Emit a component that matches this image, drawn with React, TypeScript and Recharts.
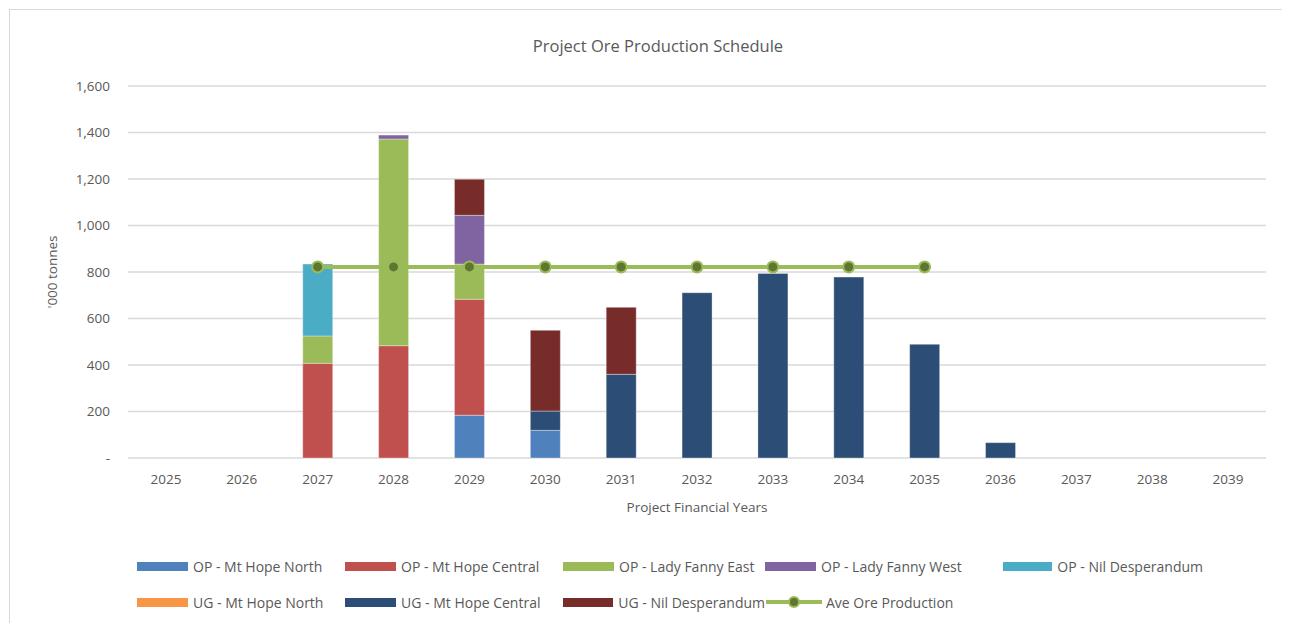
import { ComposedChart, Bar, Line, XAxis, YAxis, CartesianGrid, Label } from 'recharts'

const years = ['2025', '2026', '2027', '2028', '2029', '2030', '2031', '2032', '2033', '2034', '2035', '2036', '2037', '2038', '2039']

const opMtHopeNorth = [0, 0, 0, 0, 184, 119, 0, 0, 0, 0, 0, 0, 0, 0, 0]
const opMtHopeCentral = [0, 0, 407, 483, 499, 0, 0, 0, 0, 0, 0, 0, 0, 0, 0]
const opLadyFannyEast = [0, 0, 118, 889, 151, 0, 0, 0, 0, 0, 0, 0, 0, 0, 0]
const opLadyFannyWest = [0, 0, 0, 17, 210, 0, 0, 0, 0, 0, 0, 0, 0, 0, 0]
const opNilDesperandum = [0, 0, 309, 0, 0, 0, 0, 0, 0, 0, 0, 0, 0, 0, 0]
const ugMtHopeNorth = [0, 0, 0, 0, 0, 0, 0, 0, 0, 0, 0, 0, 0, 0, 0]
const ugMtHopeCentral = [0, 0, 0, 0, 0, 83, 360, 711, 794, 778, 489, 66, 0, 0, 0]
const ugNilDesperandum = [0, 0, 0, 0, 155, 347, 288, 0, 0, 0, 0, 0, 0, 0, 0]
const aveOreProduction = [null, null, 822, 822, 822, 822, 822, 822, 822, 822, 822, null, null, null, null]

const yTicks = [0, 200, 400, 600, 800, 1000, 1200, 1400, 1600]

const SERIES = [
  { key: 'opMhn', name: 'OP - Mt Hope North', values: opMtHopeNorth, color: '#4f81bd' },
  { key: 'opMhc', name: 'OP - Mt Hope Central', values: opMtHopeCentral, color: '#c0504d' },
  { key: 'opLfe', name: 'OP - Lady Fanny East', values: opLadyFannyEast, color: '#9bbb59' },
  { key: 'opLfw', name: 'OP - Lady Fanny West', values: opLadyFannyWest, color: '#8064a2' },
  { key: 'opNd', name: 'OP - Nil Desperandum', values: opNilDesperandum, color: '#4bacc6' },
  { key: 'ugMhn', name: 'UG - Mt Hope North', values: ugMtHopeNorth, color: '#f79646' },
  { key: 'ugMhc', name: 'UG - Mt Hope Central', values: ugMtHopeCentral, color: '#2c4d75' },
  { key: 'ugNd', name: 'UG - Nil Desperandum', values: ugNilDesperandum, color: '#772c2a' },
]

const data = years.map((year, i) => {
  const row: Record<string, string | number | null> = { year, ave: aveOreProduction[i] }
  SERIES.forEach(s => { row[s.key] = s.values[i] })
  return row
})

const FONT = '"Open Sans", sans-serif'
const TEXT = '#595959'
const LINE_GREEN = '#9bbb59'
const DOT_FILL = '#5f7530'

const COL_WIDTHS = [208, 218, 202, 238, 200]

function LegendSwatch({ color }: { color: string }) {
  return <span style={{ display: 'inline-block', width: 51, height: 9, background: color, marginRight: 5 }} />
}

function LineSwatch() {
  return (
    <svg width={58} height={14} style={{ marginRight: 3 }}>
      <line x1={1} y1={7} x2={57} y2={7} stroke={LINE_GREEN} strokeWidth={4} />
      <circle cx={29} cy={7} r={5} fill={DOT_FILL} stroke={LINE_GREEN} strokeWidth={2} />
    </svg>
  )
}

export default function App() {
  const rows = [SERIES.slice(0, 5), SERIES.slice(5)]
  return (
    <div style={{
      position: 'relative', width: 1272, height: 620, marginLeft: 1, marginTop: 1,
      border: '1px solid #d9d9d9', background: '#fff', fontFamily: FONT,
    }}>
      <div style={{ position: 'absolute', top: 24, left: 0, width: 1296, textAlign: 'center', fontSize: 16.5, color: TEXT }}>
        Project Ore Production Schedule
      </div>
      <ComposedChart width={1272} height={612} data={data} margin={{ top: 76, right: 16, left: 0, bottom: 104 }}>
        <CartesianGrid vertical={false} stroke="#d9d9d9" strokeWidth={1.3} />
        <XAxis
          dataKey="year" axisLine={false} tickLine={false} tickSize={0} tickMargin={16} height={60}
          tick={{ fontSize: 13.5, fill: TEXT, fontFamily: FONT }}
        >
          <Label value="Project Financial Years" position="insideBottom" offset={6} fill={TEXT} fontSize={13.5} fontFamily={FONT} />
        </XAxis>
        <YAxis
          width={118} domain={[0, 1600]} ticks={yTicks} axisLine={false} tickLine={false} tickSize={0} tickMargin={18}
          tick={{ fontSize: 13.5, fill: TEXT, fontFamily: FONT }}
          tickFormatter={(v: number) => (v === 0 ? '-' : v.toLocaleString('en-US'))}
        >
          <Label value="'000 tonnes" angle={-90} position="insideLeft" offset={42} textAnchor="middle" fill={TEXT} fontSize={13.5} fontFamily={FONT} />
        </YAxis>
        {SERIES.map(s => (
          <Bar key={s.key} dataKey={s.key} name={s.name} stackId="ore" fill={s.color} barSize={30}
            stroke="#ffffff" strokeOpacity={0.35} strokeWidth={1} isAnimationActive={false} />
        ))}
        <Line dataKey="ave" name="Ave Ore Production" stroke={LINE_GREEN} strokeWidth={4}
          dot={{ r: 5.5, fill: DOT_FILL, stroke: LINE_GREEN, strokeWidth: 2 }} activeDot={false}
          connectNulls={false} isAnimationActive={false} />
      </ComposedChart>
      <div style={{ position: 'absolute', left: 127, top: 538, fontSize: 14, color: TEXT }}>
        {rows.map((row, ri) => (
          <div key={ri} style={{ display: 'flex', height: 36, alignItems: 'center' }}>
            {row.map((s, ci) => (
              <div key={s.key} style={{ width: COL_WIDTHS[ci], display: 'flex', alignItems: 'center', whiteSpace: 'nowrap' }}>
                <LegendSwatch color={s.color} />{s.name}
              </div>
            ))}
            {ri === 1 && (
              <div style={{ width: COL_WIDTHS[3], display: 'flex', alignItems: 'center', whiteSpace: 'nowrap' }}>
                <LineSwatch />Ave Ore Production
              </div>
            )}
          </div>
        ))}
      </div>
    </div>
  )
}
